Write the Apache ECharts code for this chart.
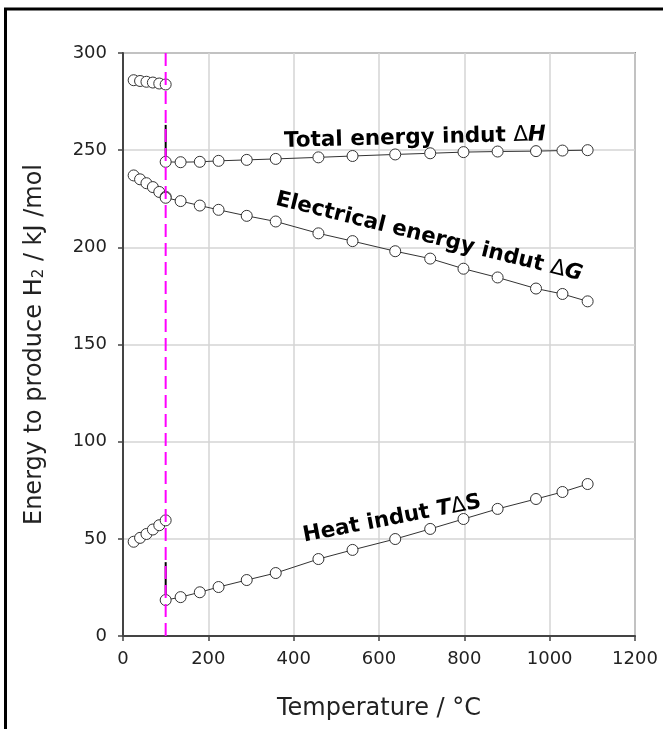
<!DOCTYPE html>
<html>
<head>
<meta charset="utf-8">
<script src="https://cdn.jsdelivr.net/npm/echarts@6/dist/echarts.min.js"></script>
<style>
html,body{margin:0;padding:0;background:#fff;}
#c{width:663px;height:729px;}
</style>
</head>
<body>
<div id="c"></div>
<script>
// ---- data ----
const xTicks = [0, 200, 400, 600, 800, 1000, 1200];
const yTicks = [0, 50, 100, 150, 200, 250, 300];

const xLiquid = [25, 40, 55, 70, 85, 100];
const dHLiquid = [286, 285.6, 285.2, 284.8, 284.3, 283.8];
const dGLiquid = [237, 235, 233, 231, 228.5, 226];
const tdSLiquid = [48.5, 50.5, 52.5, 54.8, 57, 59.5];

const xSteam = [100, 135, 180, 224, 290, 358, 458, 538, 638, 720, 798, 878, 968, 1030, 1089];
const dHSteam = [244, 243.8, 244, 244.5, 245, 245.5, 246.3, 247, 247.8, 248.4, 249, 249.3, 249.5, 249.8, 250];
const dGSteam = [225.5, 223.8, 221.5, 219.3, 216.2, 213.3, 207.2, 203.2, 198, 194.2, 189, 184.5, 178.8, 176, 172.2];
const tdSSteam = [18.5, 20, 22.5, 25.2, 28.8, 32.4, 39.6, 44.3, 49.9, 55.1, 60.2, 65.4, 70.5, 74.1, 78.2];

const boilingX = 100;
const boilingY = [0, 300];
const stepH = [263, 246];
const stepS = [38, 18.5];

const labelH = ['Total energy indut ', 'Δ', 'H'];
const labelG = ['Electrical energy indut ', 'Δ', 'G'];
const labelS = ['Heat indut ', 'T', 'Δ', 'S'];

// ---- build ----
const pair = (xs, ys) => xs.map((x, i) => [x, ys[i]]);
const FONT = 'DejaVu Sans';

function markerSeries(xs, ys) {
  return {
    type: 'line',
    data: pair(xs, ys),
    symbol: 'circle',
    symbolSize: 11,
    itemStyle: { color: '#fff', borderColor: '#333', borderWidth: 1 },
    lineStyle: { color: '#333', width: 1 },
    z: 3
  };
}

const chart = echarts.init(document.getElementById('c'), null, { renderer: 'canvas' });

const richLbl = {
  b: { fontFamily: FONT, fontWeight: 'bold', fontSize: 21.5, color: '#111' },
  d: { fontFamily: FONT, fontWeight: 'normal', fontSize: 21.5, color: '#111' },
  i: { fontFamily: FONT, fontWeight: 'bold', fontStyle: 'italic', fontSize: 21.5, color: '#111' }
};

chart.setOption({
  animation: false,
  backgroundColor: '#fff',
  grid: { left: 123, right: 28, top: 53, bottom: 93, show: true, borderColor: '#8c8c8c', borderWidth: 2, containLabel: false },
  xAxis: {
    type: 'value', min: xTicks[0], max: xTicks[xTicks.length - 1], interval: 200,
    name: 'Temperature / °C', nameLocation: 'middle', nameGap: 61,
    nameTextStyle: { fontFamily: FONT, fontSize: 24, color: '#222' },
    axisLine: { lineStyle: { color: '#444', width: 2 } },
    axisTick: { show: true, inside: false, length: 5, lineStyle: { color: '#444', width: 1.5 } },
    axisLabel: { fontFamily: FONT, fontSize: 18, color: '#222', margin: 14, formatter: v => String(v) },
    splitLine: { show: true, lineStyle: { color: '#d4d4d4', width: 1.5 } }
  },
  yAxis: {
    type: 'value', min: yTicks[0], max: yTicks[yTicks.length - 1], interval: 50,
    name: 'Energy to produce H{s|2} / kJ /mol', nameLocation: 'middle', nameGap: 76, nameRotate: 90,
    nameTextStyle: { fontFamily: FONT, fontSize: 24, color: '#222',
      rich: { s: { fontFamily: FONT, fontSize: 15, color: '#222', verticalAlign: 'bottom' } } },
    axisLine: { show: true, lineStyle: { color: '#444', width: 2 } },
    axisTick: { show: true, inside: false, length: 5, lineStyle: { color: '#444', width: 1.5 } },
    axisLabel: { fontFamily: FONT, fontSize: 18, color: '#222', margin: 16, formatter: v => String(v) },
    splitLine: { show: true, lineStyle: { color: '#d4d4d4', width: 1.5 } }
  },
  series: [
    markerSeries(xLiquid, dHLiquid),
    markerSeries(xLiquid, dGLiquid),
    markerSeries(xLiquid, tdSLiquid),
    markerSeries(xSteam, dHSteam),
    markerSeries(xSteam, dGSteam),
    markerSeries(xSteam, tdSSteam),
    { type: 'line', data: [[boilingX, stepH[0]], [boilingX, stepH[1]]], symbol: 'none', lineStyle: { color: '#000', width: 2 }, z: 2 },
    { type: 'line', data: [[boilingX, stepS[0]], [boilingX, stepS[1]]], symbol: 'none', lineStyle: { color: '#000', width: 2 }, z: 2 },
    { type: 'line', data: [[boilingX, boilingY[0]], [boilingX, boilingY[1]]], symbol: 'none',
      lineStyle: { color: '#ff00ff', width: 2, type: [13, 6] }, z: 4 }
  ],
  graphic: [
    { type: 'rect', shape: { x: 5.5, y: 9, width: 720, height: 800 }, style: { fill: 'none', stroke: '#000', lineWidth: 3 }, z: 10 },
    { type: 'text', x: 415, y: 138, rotation: 0.026, z: 20,
      style: { text: '{b|' + labelH[0] + '}{d|' + labelH[1] + '}{i|' + labelH[2] + '}', rich: richLbl, align: 'center', verticalAlign: 'middle' } },
    { type: 'text', x: 429, y: 237, rotation: -0.243, z: 20,
      style: { text: '{b|' + labelG[0] + '}{d|' + labelG[1] + '}{i|' + labelG[2] + '}', rich: richLbl, align: 'center', verticalAlign: 'middle' } },
    { type: 'text', x: 392, y: 519, rotation: 0.19, z: 20,
      style: { text: '{b|' + labelS[0] + '}{i|' + labelS[1] + '}{d|' + labelS[2] + '}{b|' + labelS[3] + '}', rich: richLbl, align: 'center', verticalAlign: 'middle' } }
  ]
});
</script>
</body>
</html>
